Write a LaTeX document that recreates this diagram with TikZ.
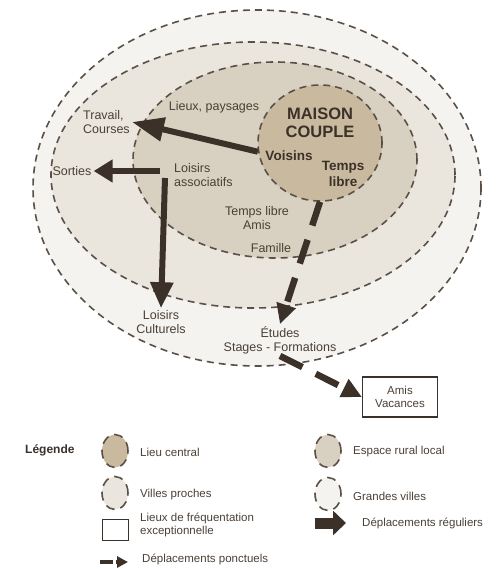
\documentclass[tikz,border=0pt]{standalone}
\usepackage{fontspec}
\setmainfont{Liberation Sans}
\usepackage{xcolor}
\definecolor{mainDark}{HTML}{3B3129}
\definecolor{textDark}{HTML}{4A4036}
\definecolor{dashColor}{HTML}{5B5047}
\definecolor{grandesColor}{HTML}{F5F3EF}
\definecolor{villesColor}{HTML}{EAE6DE}
\definecolor{ruralColor}{HTML}{D8D0C1}
\definecolor{centralColor}{HTML}{C9BA9F}
\usetikzlibrary{shapes,arrows,positioning,calc,arrows.meta,shapes.misc}
\tikzset{
  zoneBox/.style={
    ellipse,
    draw=dashColor,
    line width=1.6pt,
    dash pattern=on 7pt off 5pt,
    inner sep=0pt
 },
  labelTxt/.style={
    text=textDark,
    font=\fontsize{12.5}{14}\selectfont,
    inner sep=2pt
 },
  boldTxt/.style={
    text=mainDark,
    font=\fontsize{13.5}{16}\selectfont\bfseries,
    inner sep=2pt
 },
  legendTxt/.style={
    text=textDark,
    font=\fontsize{11.5}{12.5}\selectfont,
    align=left,
    anchor=west,
    inner sep=0pt
 },
  regArrow/.style={
    -{Triangle[length=26pt,width=22pt]},
    line width=6pt,
    color=mainDark
 },
  ponctArrow/.style={
    -{Triangle[length=20pt,width=19pt]},
    line width=6.5pt,
    dash pattern=on 25pt off 15pt,
    color=mainDark
 }
}

\begin{document}
\begin{tikzpicture}[x=1pt,y=-1pt]
            \useasboundingbox (0,0) rectangle (497,569);
            % zones
            \node[zoneBox, fill=grandesColor, minimum width=448pt, minimum height=356pt] (grandes) at (257,188) {};
            \node[zoneBox, fill=villesColor, minimum width=404pt, minimum height=266pt] (villes) at (253,175) {};
            \node[zoneBox, fill=ruralColor, minimum width=284pt, minimum height=196pt] (rural) at (275,160) {};
            \node[zoneBox, fill=centralColor, minimum width=124pt, minimum height=116pt] (maison) at (320,143) {};

            % labels
            \node[boldTxt, font=\fontsize{16.5}{18}\selectfont\bfseries, align=center] (maisonTxt) at (320,123) {MAISON\\COUPLE};
            \node[boldTxt] (voisins) at (289,156) {Voisins};
            \node[boldTxt, align=center] (tempsLibre) at (343,174) {Temps\\libre};
            \node[labelTxt] (lieux) at (214,107) {Lieux, paysages};
            \node[labelTxt, align=left, anchor=west] (travail) at (81,122) {Travail,\\Courses};
            \node[labelTxt] (sorties) at (72,171) {Sorties};
            \node[labelTxt, align=left, anchor=west] (loisirsAsso) at (172,175) {Loisirs\\associatifs};
            \node[labelTxt, align=center] (tempsAmis) at (257,218) {Temps libre\\Amis};
            \node[labelTxt] (famille) at (271,248) {Famille};
            \node[labelTxt, align=center] (loisirsCult) at (161,322) {Loisirs\\Culturels};
            \node[labelTxt, align=center] (etudes) at (280,340) {Études\\Stages - Formations};
            \node[draw=mainDark, line width=1.2pt, fill=white, minimum width=75pt, minimum height=40pt,
                  text=textDark, font=\fontsize{11.5}{13.5}\selectfont, align=center] (amis) at (400,397) {Amis\\Vacances};

            \coordinate (hubW) at (160,171);
            \coordinate (hubS) at (165,178);

            % movements
            \draw[regArrow, -{Triangle[length=32pt,width=23pt]}] (maison.188) -- (travail.east);
            \draw[regArrow, -{Triangle[length=19pt,width=22pt]}] (hubW) -- (sorties.east);
            \draw[regArrow] (hubS) -- (loisirsCult.north);
            \draw[ponctArrow] (maison.270) -- (etudes.north);
            \draw[ponctArrow] (etudes.south) -- (amis.west);

            % legend
            \node[text=mainDark, font=\fontsize{12}{14}\selectfont\bfseries, anchor=west, inner sep=0pt] (legTitle) at (25,450) {Légende};
            \node[zoneBox, fill=centralColor, minimum width=26pt, minimum height=33pt, dash pattern=on 9pt off 6pt] (legCentral) at (115,451) {};
            \node[legendTxt] (legCentralTxt) at (140,452) {Lieu central};
            \node[zoneBox, fill=villesColor, minimum width=26pt, minimum height=33pt, dash pattern=on 9pt off 6pt] (legVilles) at (115,493) {};
            \node[legendTxt] (legVillesTxt) at (140,495) {Villes proches};
            \node[draw=mainDark, line width=1pt, minimum width=26pt, minimum height=21pt, inner sep=0pt] (legExcep) at (115,530) {};
            \node[legendTxt] (legExcepTxt) at (140,525) {Lieux de fréquentation\\exceptionnelle};
            \coordinate (legPonctA) at (100,562);
            \coordinate (legPonctB) at (128,562);
            \draw[mainDark, line width=4pt, dash pattern=on 13pt off 3pt, -{Triangle[length=11pt,width=11pt]}] (legPonctA) -- (legPonctB);
            \node[legendTxt] (legPonctTxt) at (142,559) {Déplacements ponctuels};

            \node[zoneBox, fill=ruralColor, minimum width=26pt, minimum height=33pt, dash pattern=on 9pt off 6pt] (legRural) at (328,451) {};
            \node[legendTxt] (legRuralTxt) at (353,452) {Espace rural local};
            \node[zoneBox, fill=grandesColor, minimum width=26pt, minimum height=33pt, dash pattern=on 9pt off 6pt] (legGrandes) at (328,494) {};
            \node[legendTxt] (legGrandesTxt) at (353,496) {Grandes villes};
            \coordinate (legRegA) at (315,523);
            \coordinate (legRegB) at (346,523);
            \draw[mainDark, line width=11pt, -{Triangle[length=13pt,width=24pt]}] (legRegA) -- (legRegB);
            \node[legendTxt] (legRegTxt) at (362,523) {Déplacements réguliers};
        \end{tikzpicture}
\end{document}
